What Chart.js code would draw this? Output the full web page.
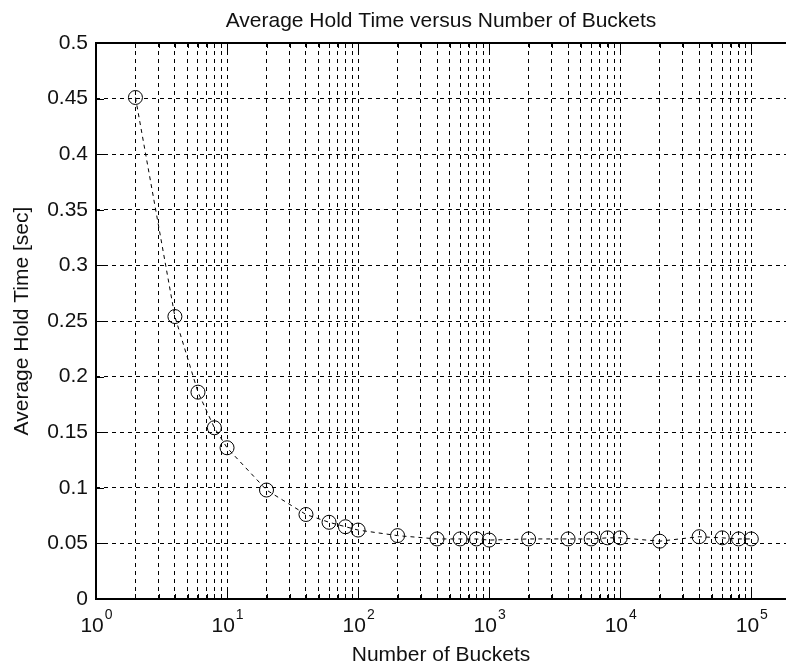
<!DOCTYPE html>
<html>
<head>
<meta charset="utf-8">
<script src="https://cdn.jsdelivr.net/npm/chart.js@4/dist/chart.umd.min.js"></script>
<style>
  html, body { margin: 0; padding: 0; background: #fff; }
  #wrap { width: 794px; height: 666px; }
</style>
</head>
<body>
<div id="wrap"><canvas id="myChart"></canvas></div>
<script>
// number of buckets and the measured average hold time for each
const buckets = [2, 4, 6, 8, 10, 20, 40, 60, 80, 100, 200, 400, 600, 800, 1000,
                 2000, 4000, 6000, 8000, 10000, 20000, 40000, 60000, 80000, 100000];
const holdTime = [0.451, 0.254, 0.186, 0.154, 0.136, 0.098, 0.076, 0.069, 0.065, 0.062,
                  0.057, 0.054, 0.054, 0.054, 0.053, 0.054, 0.054, 0.054, 0.055, 0.055,
                  0.052, 0.056, 0.055, 0.054, 0.054];

// axis ticks
const xDecades = [0, 1, 2, 3, 4, 5];
const xMultiples = [1, 2, 3, 4, 5, 6, 7, 8, 9];
const yTicks = [0, 0.05, 0.1, 0.15, 0.2, 0.25, 0.3, 0.35, 0.4, 0.45, 0.5];

const titleText = 'Average Hold Time versus Number of Buckets';
const xTitle = 'Number of Buckets';
const yTitle = 'Average Hold Time [sec]';

const FONT = '"Liberation Sans", Arial, sans-serif';

let xTickValues = [];
xDecades.forEach(d => {
    if (d === xDecades[xDecades.length - 1]) {
        xTickValues.push(Math.pow(10, d));
    } else {
        xMultiples.forEach(m => xTickValues.push(m * Math.pow(10, d)));
    }
});

// frame, inner tick marks, power-of-ten labels and titles
const matlabAxes = {
    id: 'matlabAxes',
    afterDraw(chart) {
        const ctx = chart.ctx;
        const a = chart.chartArea;
        const xs = chart.scales.x;
        const ys = chart.scales.y;
        ctx.save();
        ctx.strokeStyle = '#000';

        // inward tick marks
        ctx.lineWidth = 1;
        xTickValues.forEach(v => {
            const x = Math.round(xs.getPixelForValue(v)) + 0.5;
            const major = Math.abs(Math.log10(v) - Math.round(Math.log10(v))) < 1e-9;
            const len = major ? 9 : 5;
            ctx.beginPath();
            ctx.moveTo(x, a.bottom); ctx.lineTo(x, a.bottom - len);
            ctx.moveTo(x, a.top); ctx.lineTo(x, a.top + len);
            ctx.stroke();
        });
        yTicks.forEach(v => {
            const y = Math.round(ys.getPixelForValue(v)) + 0.5;
            ctx.beginPath();
            ctx.moveTo(a.left, y); ctx.lineTo(a.left + 8, y);
            ctx.stroke();
        });

        // box (right side falls off the canvas)
        ctx.lineWidth = 2;
        ctx.beginPath();
        ctx.moveTo(a.right, a.top); ctx.lineTo(a.left, a.top);
        ctx.lineTo(a.left, a.bottom); ctx.lineTo(a.right, a.bottom);
        ctx.stroke();

        ctx.fillStyle = '#111';

        // 10^n labels
        ctx.textBaseline = 'alphabetic';
        xDecades.forEach(d => {
            const x = xs.getPixelForValue(Math.pow(10, d));
            ctx.font = '21px ' + FONT;
            const wBase = ctx.measureText('10').width;
            ctx.font = '14px ' + FONT;
            const wExp = ctx.measureText(String(d)).width;
            const x0 = x - (wBase + wExp) / 2;
            ctx.textAlign = 'left';
            ctx.font = '21px ' + FONT;
            ctx.fillText('10', x0, 632);
            ctx.font = '14px ' + FONT;
            ctx.fillText(String(d), x0 + wBase + 1, 619);
        });

        // titles
        const cx = (a.left + a.right) / 2;
        ctx.textAlign = 'center';
        ctx.font = '21px ' + FONT;
        ctx.fillText(titleText, cx, 27);
        ctx.textBaseline = 'middle';
        ctx.fillText(xTitle, cx, 655);
        ctx.translate(22, (a.top + a.bottom) / 2);
        ctx.rotate(-Math.PI / 2);
        ctx.fillText(yTitle, 0, 0);
        ctx.restore();
    }
};

window.onload = function() {
    let ctx = document.getElementById('myChart');

    let data = {
        datasets: [{
            label: 'Average Hold Time',
            data: buckets.map((b, i) => ({x: b, y: holdTime[i]})),
            borderColor: '#000',
            borderWidth: 1,
            borderDash: [4, 4],
            backgroundColor: 'rgba(0,0,0,0)',
            pointRadius: 7,
            pointBorderWidth: 1,
            pointBorderColor: '#000',
            pointBackgroundColor: 'rgba(0,0,0,0)',
            tension: 0
        }]
    };

    let myChart = new Chart(ctx, {
        type: 'line',
        data: data,
        options: {
            responsive: true,
            maintainAspectRatio: false,
            animation: false,
            layout: { padding: { top: 43, right: 0, left: 0, bottom: 0 } },
            plugins: {
                legend: { display: false },
                tooltip: { enabled: false },
                title: { display: false }
            },
            scales: {
                x: {
                    type: 'logarithmic',
                    min: 1,
                    max: 1.84e5,
                    afterBuildTicks(scale) {
                        scale.ticks = xTickValues.map(v => ({value: v}));
                    },
                    afterFit(scale) { scale.height = 67; },
                    ticks: { display: false },
                    grid: { color: '#000', lineWidth: 1, drawTicks: false },
                    border: { display: false, dash: [4, 4] }
                },
                y: {
                    min: 0,
                    max: 0.5,
                    afterBuildTicks(scale) {
                        scale.ticks = yTicks.map(v => ({value: v}));
                    },
                    afterFit(scale) { scale.width = 96; },
                    ticks: {
                        color: '#111',
                        padding: 8,
                        font: { family: FONT, size: 21 },
                        callback: v => String(+v.toFixed(2))
                    },
                    grid: { color: '#000', lineWidth: 1, drawTicks: false },
                    border: { display: false, dash: [4, 4] }
                }
            }
        },
        plugins: [matlabAxes]
    });
};
</script>
</body>
</html>
